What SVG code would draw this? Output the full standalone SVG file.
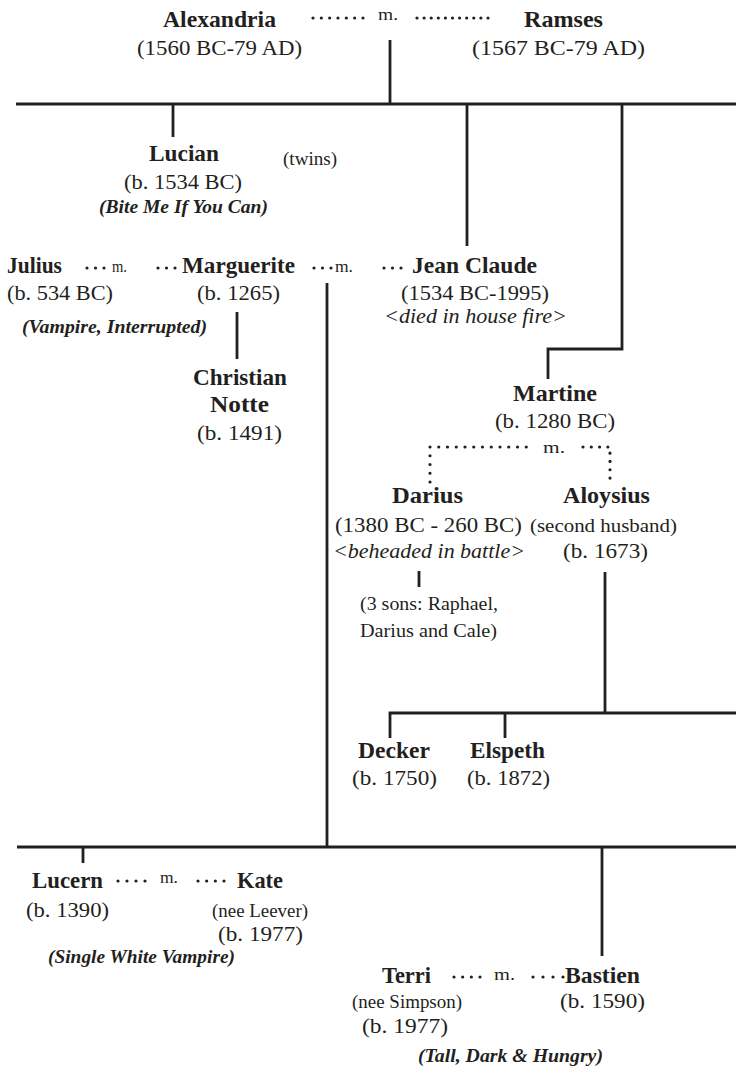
<svg xmlns="http://www.w3.org/2000/svg" width="736" height="1072" viewBox="0 0 736 1072">
<style>
text{font-family:"Liberation Serif","Times New Roman",serif;fill:#231f20;text-anchor:start}
.n{font-size:23px;font-weight:bold}
.d{font-size:21px}
.s{font-size:18px}
.i{font-size:20px;font-style:italic}
.bi{font-size:19px;font-style:italic;font-weight:bold}
.m{font-size:17px}
.ln{fill:none;stroke:#231f20;stroke-width:2.8}
.dt{fill:none;stroke:#231f20;stroke-width:3.2;stroke-linecap:round}
</style>
<rect width="736" height="1072" fill="#fff"/>
<g id="connectors">
<path class="ln" d="M390 40V104M16 104H736M173 104V137M467 104V246M622 104V349H548V379"/>
<path class="ln" d="M237 312V359M327 283V847M17 847H736M83 847V863M602 847V956"/>
<path class="ln" d="M419 571V587M605 572V713M390 738V713H736M505 713V738"/>
<path class="dt" stroke-dasharray="0 8.33" d="M313 18H363.4"/>
<path class="dt" stroke-dasharray="0 7.1" d="M417 18H488.4"/>
<path class="dt" stroke-dasharray="0 8.5" d="M87 268H104.4M158 268H175.4M314 268H331.4M384 268H401.4"/>
<path class="dt" stroke-dasharray="0 8.75" d="M430 482V447H527.4"/>
<path class="dt" stroke-dasharray="0 8.29" d="M583 447H610V478.4"/>
<path class="dt" stroke-dasharray="0 9" d="M118 881H145.4"/>
<path class="dt" stroke-dasharray="0 8.67" d="M198 881H224.4M454 977H480.4"/>
<path class="dt" stroke-dasharray="0 10" d="M533 977H563.4"/>
</g>
<g id="marriage-labels">
<text class="m" x="378" y="20" textLength="20" lengthAdjust="spacingAndGlyphs">m.</text>
<text class="m" x="112" y="272" textLength="15" lengthAdjust="spacingAndGlyphs">m.</text>
<text class="m" x="335" y="272" textLength="18" lengthAdjust="spacingAndGlyphs">m.</text>
<text class="m" x="543" y="453" textLength="22" lengthAdjust="spacingAndGlyphs">m.</text>
<text class="m" x="160" y="883" textLength="18" lengthAdjust="spacingAndGlyphs">m.</text>
<text class="m" x="494" y="980" textLength="21" lengthAdjust="spacingAndGlyphs">m.</text>
</g>
<g id="alexandria">
<text class="n" x="163" y="27" textLength="113" lengthAdjust="spacingAndGlyphs">Alexandria</text>
<text class="d" x="137" y="55" textLength="165" lengthAdjust="spacingAndGlyphs">(1560 BC-79 AD)</text>
</g>
<g id="ramses">
<text class="n" x="524" y="27" textLength="79" lengthAdjust="spacingAndGlyphs">Ramses</text>
<text class="d" x="472" y="55" textLength="173" lengthAdjust="spacingAndGlyphs">(1567 BC-79 AD)</text>
</g>
<g id="lucian">
<text class="n" x="149" y="161" textLength="70" lengthAdjust="spacingAndGlyphs">Lucian</text>
<text class="d" x="124" y="189" textLength="118" lengthAdjust="spacingAndGlyphs">(b. 1534 BC)</text>
<text class="bi" x="99" y="213" textLength="169" lengthAdjust="spacingAndGlyphs">(Bite Me If You Can)</text>
</g>
<g id="twins-note">
<text class="s" x="283" y="165" textLength="54" lengthAdjust="spacingAndGlyphs">(twins)</text>
</g>
<g id="julius">
<text class="n" x="7" y="273" textLength="55" lengthAdjust="spacingAndGlyphs">Julius</text>
<text class="d" x="7" y="300" textLength="106" lengthAdjust="spacingAndGlyphs">(b. 534 BC)</text>
<text class="bi" x="22" y="333" textLength="185" lengthAdjust="spacingAndGlyphs">(Vampire, Interrupted)</text>
</g>
<g id="marguerite">
<text class="n" x="182" y="273" textLength="113" lengthAdjust="spacingAndGlyphs">Marguerite</text>
<text class="d" x="197" y="300" textLength="83" lengthAdjust="spacingAndGlyphs">(b. 1265)</text>
</g>
<g id="jean-claude">
<text class="n" x="412" y="273" textLength="125" lengthAdjust="spacingAndGlyphs">Jean Claude</text>
<text class="d" x="401" y="300" textLength="148" lengthAdjust="spacingAndGlyphs">(1534 BC-1995)</text>
<text class="i" x="384" y="323" textLength="183" lengthAdjust="spacingAndGlyphs">&lt;died in house fire&gt;</text>
</g>
<g id="christian">
<text class="n" x="193" y="385" textLength="94" lengthAdjust="spacingAndGlyphs">Christian</text>
<text class="n" x="210" y="412" textLength="59" lengthAdjust="spacingAndGlyphs">Notte</text>
<text class="d" x="197" y="440" textLength="85" lengthAdjust="spacingAndGlyphs">(b. 1491)</text>
</g>
<g id="martine">
<text class="n" x="513" y="401" textLength="84" lengthAdjust="spacingAndGlyphs">Martine</text>
<text class="d" x="495" y="428" textLength="120" lengthAdjust="spacingAndGlyphs">(b. 1280 BC)</text>
</g>
<g id="darius">
<text class="n" x="392" y="503" textLength="71" lengthAdjust="spacingAndGlyphs">Darius</text>
<text class="d" x="335" y="532" textLength="187" lengthAdjust="spacingAndGlyphs">(1380 BC - 260 BC)</text>
<text class="i" x="333" y="558" textLength="192" lengthAdjust="spacingAndGlyphs">&lt;beheaded in battle&gt;</text>
</g>
<g id="aloysius">
<text class="n" x="563" y="503" textLength="87" lengthAdjust="spacingAndGlyphs">Aloysius</text>
<text class="s" x="530" y="532" textLength="147" lengthAdjust="spacingAndGlyphs">(second husband)</text>
<text class="d" x="563" y="558" textLength="85" lengthAdjust="spacingAndGlyphs">(b. 1673)</text>
</g>
<g id="darius-sons">
<text class="s" x="360" y="610" textLength="138" lengthAdjust="spacingAndGlyphs">(3 sons: Raphael,</text>
<text class="s" x="360" y="637" textLength="137" lengthAdjust="spacingAndGlyphs">Darius and Cale)</text>
</g>
<g id="decker">
<text class="n" x="358" y="758" textLength="72" lengthAdjust="spacingAndGlyphs">Decker</text>
<text class="d" x="352" y="785" textLength="85" lengthAdjust="spacingAndGlyphs">(b. 1750)</text>
</g>
<g id="elspeth">
<text class="n" x="470" y="758" textLength="75" lengthAdjust="spacingAndGlyphs">Elspeth</text>
<text class="d" x="467" y="785" textLength="83" lengthAdjust="spacingAndGlyphs">(b. 1872)</text>
</g>
<g id="lucern">
<text class="n" x="32" y="888" textLength="71" lengthAdjust="spacingAndGlyphs">Lucern</text>
<text class="d" x="26" y="917" textLength="83" lengthAdjust="spacingAndGlyphs">(b. 1390)</text>
<text class="bi" x="48" y="963" textLength="187" lengthAdjust="spacingAndGlyphs">(Single White Vampire)</text>
</g>
<g id="kate">
<text class="n" x="237" y="888" textLength="46" lengthAdjust="spacingAndGlyphs">Kate</text>
<text class="s" x="212" y="917" textLength="96" lengthAdjust="spacingAndGlyphs">(nee Leever)</text>
<text class="d" x="218" y="941" textLength="85" lengthAdjust="spacingAndGlyphs">(b. 1977)</text>
</g>
<g id="terri">
<text class="n" x="382" y="983" textLength="49" lengthAdjust="spacingAndGlyphs">Terri</text>
<text class="s" x="352" y="1008" textLength="110" lengthAdjust="spacingAndGlyphs">(nee Simpson)</text>
<text class="d" x="362" y="1033" textLength="86" lengthAdjust="spacingAndGlyphs">(b. 1977)</text>
</g>
<g id="bastien">
<text class="n" x="565" y="983" textLength="75" lengthAdjust="spacingAndGlyphs">Bastien</text>
<text class="d" x="560" y="1008" textLength="85" lengthAdjust="spacingAndGlyphs">(b. 1590)</text>
</g>
<g id="tall-dark-hungry">
<text class="bi" x="418" y="1062" textLength="185" lengthAdjust="spacingAndGlyphs">(Tall, Dark &amp; Hungry)</text>
</g>
</svg>
